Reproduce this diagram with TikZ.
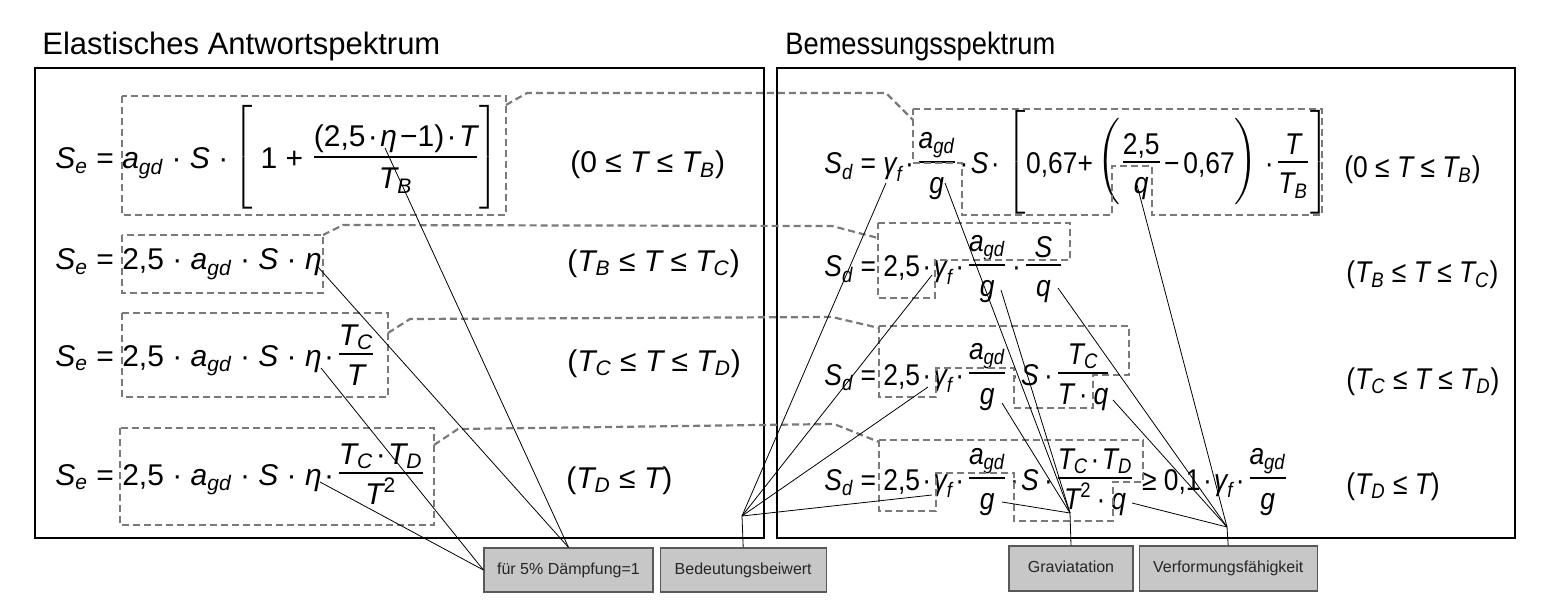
\documentclass[tikz,border=0pt]{standalone}
\usepackage{amsmath}
\usepackage{fontspec}
\setmainfont{Liberation Sans}
\newfontfamily\narrowfont[FakeStretch=0.88]{Liberation Sans}
\usetikzlibrary{positioning}

\newcommand\vv[1]{\textit{#1}}
\newcommand\nn[1]{\text{#1}}
\newcommand\tdot{\kern1.2pt·\kern1.2pt}
\newcommand\wdot{\kern2.5pt·\kern3pt}
\newcommand\axisfix{\fontdimen22\textfont2=6pt\relax}
\newcommand\eqsize{\fontsize{15}{18}\selectfont}
\newcommand\titlesize{\fontsize{15.5}{18}\selectfont}
\newcommand\tagsize{\fontsize{8}{9}\selectfont}

\tikzset{
  frame/.style={draw=black,line width=1pt},
  dashbox/.style={draw=black!52,line width=1.1pt,dash pattern=on 3.5pt off 2pt},
  pointer/.style={draw=black,line width=0.4pt},
  eqn/.style={anchor=base west,inner sep=0pt,font=\eqsize},
  eqnr/.style={eqn,font=\eqsize\narrowfont},
  tag/.style={draw=black!65,fill=black!22,line width=0.6pt,font=\tagsize,
    text=black!85,text height=6pt,text depth=1.8pt,minimum height=22pt,inner sep=1pt}
}

\begin{document}
\begin{tikzpicture}[x=0.5pt,y=-0.5pt]
\useasboundingbox (0,0) rectangle (1541,609);

% titles and frames
\node[anchor=base west,inner sep=0pt,font=\titlesize] (tit1) at (42,55) {Elastisches Antwortspektrum};
\node[anchor=base west,inner sep=0pt,font=\titlesize\narrowfont] (tit2) at (785,55) {Bemessungsspektrum};
\draw[frame] (35,68) rectangle (764,538);
\draw[frame] (777,68) rectangle (1515,538);

% elastic spectrum
\node[eqn] (se1) at (55,169) {$\axisfix\vv{S}_{\vv{e}}\nn{ = }\vv{a}_{\vv{gd}}\nn{ · }\vv{S}\nn{ ·}\left[\rule[-21pt]{0pt}{54pt}\nn{ 1 + }\dfrac{\nn{(2,5\tdot}\vv{η}\nn{\kern1.5pt−1)\tdot}\vv{T}}{\vv{T}_{\vv{B}}}\right]$};
\node[eqn] (se2) at (55,270) {$\axisfix\vv{S}_{\vv{e}}\nn{ = 2,5 · }\vv{a}_{\vv{gd}}\nn{ · }\vv{S}\nn{ · }\vv{η}$};
\node[eqn] (se3) at (55,366) {$\axisfix\vv{S}_{\vv{e}}\nn{ = 2,5 · }\vv{a}_{\vv{gd}}\nn{ · }\vv{S}\nn{ · }\vv{η}\nn{\tdot}\dfrac{\vv{T}_{\vv{C}}}{\vv{T}}$};
\node[eqn] (se4) at (55,485) {$\axisfix\vv{S}_{\vv{e}}\nn{ = 2,5 · }\vv{a}_{\vv{gd}}\nn{ · }\vv{S}\nn{ · }\vv{η}\nn{\tdot}\dfrac{\vv{T}_{\vv{C}}\nn{\tdot}\vv{T}_{\vv{D}}}{\vv{T}^{\nn{2}}}$};

\node[eqn] (ce1) at (570,173) {$\nn{(0 ≤ }\vv{T}\nn{ ≤ }\vv{T}_{\vv{B}}\nn{)}$};
\node[eqn] (ce2) at (567,271) {$\nn{(}\vv{T}_{\vv{B}}\nn{ ≤ }\vv{T}\nn{ ≤ }\vv{T}_{\vv{C}}\nn{)}$};
\node[eqn] (ce3) at (567,371) {$\nn{(}\vv{T}_{\vv{C}}\nn{ ≤ }\vv{T}\nn{ ≤ }\vv{T}_{\vv{D}}\nn{)}$};
\node[eqn] (ce4) at (566,488) {$\nn{(}\vv{T}_{\vv{D}}\nn{ ≤ }\vv{T}\nn{)}$};

% design spectrum
\node[eqnr] (sd1) at (824,174) {$\axisfix\vv{S}_{\vv{d}}\nn{ = }\vv{γ}_{\vv{f}}\nn{\tdot}\dfrac{\vv{a}_{\vv{gd}}}{\vv{g}}\nn{\tdot}\vv{S}\nn{\tdot}\left[\rule[-18pt]{0pt}{48pt}\nn{0,67+}\left(\rule[-16pt]{0pt}{44pt}\dfrac{\nn{2,5}}{\vv{q}}\nn{\kern1pt−\kern2pt0,67}\right)\nn{\tdot}\dfrac{\vv{T}}{\vv{T}_{\vv{B}}}\right]$};
\node[eqnr] (sd2) at (824,277) {$\axisfix\vv{S}_{\vv{d}}\nn{ = 2,5\tdot}\vv{γ}_{\vv{f}}\nn{\tdot}\dfrac{\vv{a}_{\vv{gd}}}{\vv{g}}\nn{\kern1pt\tdot}\dfrac{\kern4.5pt\vv{S}\kern4.5pt}{\vv{q}}$};
\node[eqnr] (sd3) at (824,385) {$\axisfix\vv{S}_{\vv{d}}\nn{ = 2,5\tdot}\vv{γ}_{\vv{f}}\nn{\tdot}\dfrac{\vv{a}_{\vv{gd}}}{\vv{g}}\nn{\tdot}\vv{S}\nn{\kern1.5pt\tdot}\dfrac{\vv{T}_{\vv{C}}}{\vv{T}\nn{\wdot}\vv{q}}$};
\node[eqnr] (sd4) at (824,490) {$\axisfix\vv{S}_{\vv{d}}\nn{ = 2,5\tdot}\vv{γ}_{\vv{f}}\nn{\tdot}\dfrac{\vv{a}_{\vv{gd}}}{\vv{g}}\nn{\tdot}\vv{S}\nn{\kern1.5pt\tdot}\dfrac{\vv{T}_{\vv{C}}\nn{\tdot}\vv{T}_{\vv{D}}}{\vv{T}^{\nn{2}}\nn{\wdot}\vv{q}}\nn{ ≥ 0,1\tdot}\vv{γ}_{\vv{f}}\nn{\tdot}\dfrac{\vv{a}_{\vv{gd}}}{\vv{g}}$};

\node[eqnr] (cd1) at (1344,178) {$\nn{(0 ≤ }\vv{T}\nn{ ≤ }\vv{T}_{\vv{B}}\nn{)}$};
\node[eqnr] (cd2) at (1346,283) {$\nn{(}\vv{T}_{\vv{B}}\nn{ ≤ }\vv{T}\nn{ ≤ }\vv{T}_{\vv{C}}\nn{)}$};
\node[eqnr] (cd3) at (1346,389) {$\nn{(}\vv{T}_{\vv{C}}\nn{ ≤ }\vv{T}\nn{ ≤ }\vv{T}_{\vv{D}}\nn{)}$};
\node[eqnr] (cd4) at (1346,494) {$\nn{(}\vv{T}_{\vv{D}}\nn{ ≤ }\vv{T}\nn{)}$};

% dashed parts and links
\draw[dashbox] (122,96) rectangle (506,215);
\draw[dashbox] (122,235) rectangle (323,293);
\draw[dashbox] (122,313) rectangle (388,397);
\draw[dashbox] (120,428) rectangle (434,525);
\draw[dashbox] (506,105) -- (527,93) -- (886,93) -- (913,120);
\draw[dashbox] (323,235) -- (343,225) -- (832,226) -- (878,238);
\draw[dashbox] (388,333) -- (410,319) -- (832,317) -- (879,328);
\draw[dashbox] (434,445) -- (458,429) -- (834,424) -- (879,442);
\draw[dashbox] (913,109) -- (1322,109) -- (1322,215) -- (1152,215) -- (1152,166) -- (1112,166)
  -- (1112,215) -- (962,215) -- (962,163) -- (913,163) -- cycle;
\draw[dashbox] (878,223) -- (1070,223) -- (1070,260) -- (935,260) -- (935,298) -- (878,298) -- cycle;
\draw[dashbox] (879,326) -- (1129,326) -- (1129,375) -- (1093,375) -- (1093,408) -- (1014,408)
  -- (1014,368) -- (936,368) -- (936,397) -- (879,397) -- cycle;
\draw[dashbox] (879,440) -- (1143,440) -- (1143,482) -- (1113,482) -- (1113,521) -- (1014,521)
  -- (1014,473) -- (936,473) -- (936,511) -- (879,511) -- cycle;

% labels
\node[tag,minimum width=84.5pt] (lblD) at (568.5,570) {für 5\% Dämpfung=1};
\node[tag,minimum width=83pt,right=3pt of lblD] (lblB) {Bedeutungsbeiwert};
\node[tag,minimum width=62pt,minimum height=22.5pt] (lblG) at (1071,568.5) {Graviatation};
\node[tag,minimum width=89pt,minimum height=22.5pt,right=2.5pt of lblG] (lblV) {Verformungsfähigkeit};

% pointer ends
\coordinate (eta1) at (385,148);
\coordinate (eta2) at (318,267);
\coordinate (eta3) at (321,368);
\coordinate (eta4) at (320,482);
\coordinate (gam1) at (886,183);
\coordinate (gam2) at (932,275);
\coordinate (gam3) at (928,387);
\coordinate (gam4) at (932,495);
\coordinate (g1) at (945,183);
\coordinate (g2) at (1001,290);
\coordinate (g3) at (1002,403);
\coordinate (g4) at (1002,502);
\coordinate (q1) at (1137,185);
\coordinate (q2) at (1058,288);
\coordinate (q3) at (1113,400);
\coordinate (q4) at (1132,503);
\coordinate (jB) at (742,516);
\coordinate (jG) at (1070,513);
\coordinate (jV) at (1227,527);

\draw[pointer] (eta1) -- (lblD.north);
\draw[pointer] (eta2) -- (lblD.north);
\draw[pointer] (eta3) -- (lblD.west);
\draw[pointer] (eta4) -- (lblD.west);
\draw[pointer] (lblB.north) -- (jB);
\draw[pointer] (lblG.north) -- (jG);
\draw[pointer] (lblV.north) -- (jV);
\foreach \k in {1,...,4} {
  \draw[pointer] (jB) -- (gam\k);
  \draw[pointer] (jG) -- (g\k);
  \draw[pointer] (jV) -- (q\k);
}

\end{tikzpicture}
\end{document}
